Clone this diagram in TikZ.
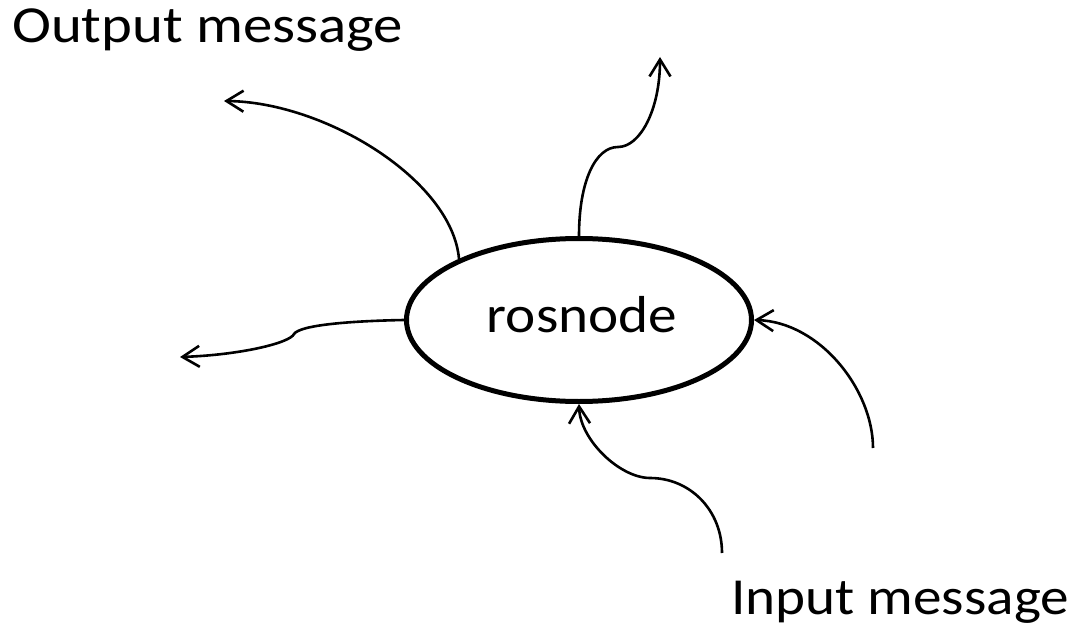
\documentclass[tikz,border=0pt]{standalone}
\usepackage{fontspec}
\setmainfont{Carlito}
\usetikzlibrary{arrows.meta,shapes.geometric}

\begin{document}
\begin{tikzpicture}[x=1pt,y=-1pt,
  msg/.style={font=\fontsize{52}{60}\selectfont, inner sep=0pt, anchor=base west},
  proc/.style={ellipse, draw, line width=5pt, minimum width=345pt, minimum height=163pt,
    inner sep=0pt, font=\fontsize{52}{60}\selectfont, text height=40pt, text depth=16pt},
  link/.style={line width=2.6pt, -{Straight Barb[length=17pt,width=21pt]}}]
\useasboundingbox (0,0) rectangle (1081,631);

% the node and its labels
\node[proc] (ros) at (579,320) {\hspace{6pt}\scalebox{1.1}[1]{rosnode}};
\node[msg] (outlbl) at (12,43) {\scalebox{1.13}[1]{Output message}};
\node[msg] (inlbl) at (731,614) {\scalebox{1.1}[1]{Input message}};

% free ends of the connectors
\coordinate (o1) at (224,101);
\coordinate (o2) at (660,57);
\coordinate (w2) at (618,147);
\coordinate (o3) at (180,357);
\coordinate (w3) at (294,334);
\coordinate (i1) at (873,448);
\coordinate (i2) at (722,553);
\coordinate (w5) at (650,478);

% outgoing messages
\draw[link] (ros.153) .. controls (452,180) and (325,102) .. (o1);
\draw[link] (ros.90) .. controls (579,180) and (596,147) .. (w2)
            .. controls (640,147) and (660,110) .. (o2);
\draw[link] (ros.180) .. controls (350,321) and (300,325) .. (w3)
            .. controls (290,343) and (240,355) .. (o3);

% incoming messages
\draw[link] (i1) .. controls (873,390) and (820,322) .. (ros.0);
\draw[link] (i2) .. controls (722,510) and (690,478) .. (w5)
            .. controls (620,478) and (580,440) .. (ros.270);
\end{tikzpicture}
\end{document}
